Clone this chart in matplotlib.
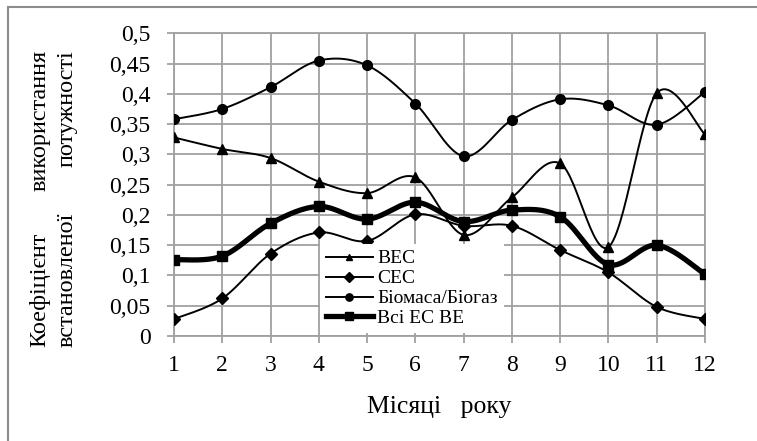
import numpy as np
import matplotlib
matplotlib.use("Agg")
import matplotlib.pyplot as plt
from matplotlib.lines import Line2D

months = [1, 2, 3, 4, 5, 6, 7, 8, 9, 10, 11, 12]
vec = [0.328, 0.309, 0.294, 0.255, 0.236, 0.262, 0.167, 0.229, 0.285, 0.147, 0.401, 0.333]
cec = [0.028, 0.062, 0.136, 0.171, 0.157, 0.201, 0.182, 0.182, 0.142, 0.105, 0.048, 0.028]
bio = [0.358, 0.375, 0.411, 0.455, 0.447, 0.384, 0.297, 0.357, 0.391, 0.381, 0.349, 0.403]
all_re = [0.126, 0.132, 0.186, 0.214, 0.193, 0.221, 0.189, 0.208, 0.197, 0.118, 0.150, 0.102]
series_names = ["ВЕС", "СЕС", "Біомаса/Біогаз", "Всі ЕС ВЕ"]
yticks = [0, 0.05, 0.1, 0.15, 0.2, 0.25, 0.3, 0.35, 0.4, 0.45, 0.5]
ytick_labels = ["0", "0,05", "0,1", "0,15", "0,2", "0,25", "0,3", "0,35", "0,4", "0,45", "0,5"]
xlabel = "Місяці   року"
ylabel_words = [("Коефіцієнт", "використання"), ("встановленої", "потужності")]

plt.rcParams['font.family'] = ['Liberation Serif', 'DejaVu Serif']

W, H = 757, 441
fig = plt.figure(figsize=(W / 100, H / 100), dpi=100)
ax = fig.add_axes([174 / W, 1 - 336 / H, (705 - 174) / W, (336 - 33.3) / H])


def smooth(x, y, n=30):
    # Excel-style smoothed line: Catmull-Rom Bezier segments through the data
    x = np.asarray(x, float)
    y = np.asarray(y, float)
    P = np.column_stack([x, y])
    out = [P[0]]
    t = np.linspace(0, 1, n)[1:, None]
    for i in range(len(P) - 1):
        p0 = P[i - 1] if i > 0 else P[i]
        p1, p2 = P[i], P[i + 1]
        p3 = P[i + 2] if i + 2 < len(P) else P[i + 1]
        c1 = p1 + (p2 - p0) / 6
        c2 = p2 - (p3 - p1) / 6
        seg = ((1 - t) ** 3) * p1 + 3 * ((1 - t) ** 2) * t * c1 + 3 * (1 - t) * t ** 2 * c2 + t ** 3 * p2
        out.extend(seg)
    out = np.array(out)
    return out[:, 0], out[:, 1]


styles = [
    (vec, '^', 6.5, 1.4),
    (cec, 'D', 6.5, 1.4),
    (bio, 'o', 7.0, 1.4),
    (all_re, 's', 7.5, 3.8),
]
handles = []
for (vals, mk, ms, lw), name in zip(styles, series_names):
    sx, sy = smooth(months, vals)
    ax.plot(sx, sy, color='black', lw=lw, solid_capstyle='round', zorder=3)
    ax.plot(months, vals, ls='none', marker=mk, ms=ms, color='black', zorder=4)
    handles.append(Line2D([], [], color='black', lw=lw, marker=mk, ms=ms * 0.75, label=name))

ax.set_xlim(1, 12)
ax.set_ylim(0, 0.5)
ax.set_xticks(months)
ax.set_xticklabels([str(m) for m in months])
ax.set_yticks(yticks)
ax.set_yticklabels(ytick_labels)
ax.grid(True, color='#a0a0a0', lw=1.3, zorder=0)
ax.set_axisbelow(True)
for s in ax.spines.values():
    s.set_color('#a0a0a0')
    s.set_linewidth(1.3)
ax.tick_params(axis='both', direction='out', length=5, width=1.3, color='#a0a0a0',
               labelsize=17, labelcolor='black')
ax.tick_params(axis='y', pad=12)
ax.tick_params(axis='x', pad=9)

leg = ax.legend(handles=handles, loc='upper left',
                bbox_to_anchor=(320 / W, 1 - 244 / H), bbox_transform=fig.transFigure,
                frameon=True, fancybox=False, framealpha=1, edgecolor='none', facecolor='white',
                fontsize=14, handlelength=2.4, handletextpad=0.25, labelspacing=0.12,
                borderpad=0.3, borderaxespad=0)
leg.set_zorder(5)

fig.text(439.5 / W, 1 - 407 / H, xlabel, ha='center', va='center', fontsize=18.5)

# Y-axis label, two justified lines
for (w1, w2), xc in zip(ylabel_words, [40, 67]):
    fig.text(xc / W, 1 - 347 / H, w1, rotation=90, ha='center', va='bottom', fontsize=17.5)
    fig.text(xc / W, 1 - 50 / H, w2, rotation=90, ha='center', va='top', fontsize=17.5)

# outer frame (top and left edges visible)
fig.add_artist(Line2D([8 / W, 1], [1 - 7 / H, 1 - 7 / H], transform=fig.transFigure,
                      color='#8c8c8c', lw=1.5))
fig.add_artist(Line2D([8 / W, 8 / W], [1 - 7 / H, 0], transform=fig.transFigure,
                      color='#8c8c8c', lw=1.5))

fig.savefig('out.png', dpi=100)
